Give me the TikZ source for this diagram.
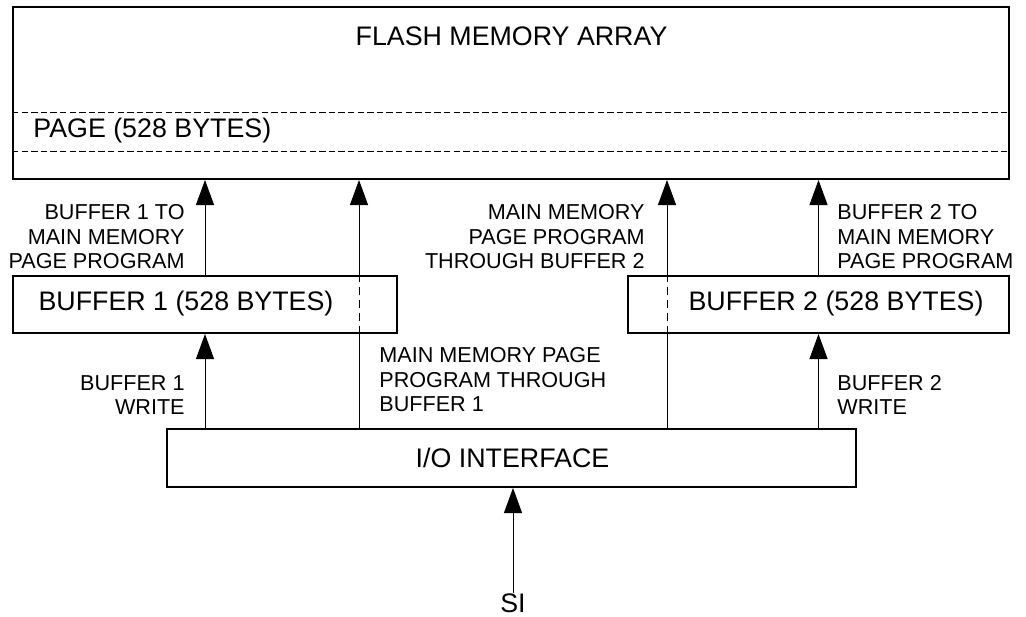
\documentclass[tikz,border=0pt]{standalone}
\usepackage{fontspec}
\setmainfont{Liberation Sans}
\usetikzlibrary{arrows.meta}
\tikzset{
  box/.style={draw, line width=1pt, rectangle, inner sep=0pt},
  lab/.style={inner sep=0pt, font=\fontsize{10.8}{12.25}\selectfont},
  big/.style={inner sep=0pt, font=\fontsize{13.4}{15}\selectfont},
  arr/.style={line width=0.5pt, -{Triangle[width=9pt,length=12.5pt]}},
  thin/.style={line width=0.5pt},
  page/.style={line width=0.5pt, dash pattern=on 3.2pt off 1.6pt},
  hidden/.style={line width=0.5pt, dash pattern=on 4pt off 2.5pt}
}
\begin{document}
\begin{tikzpicture}[x=0.5pt,y=-0.5pt]
            \useasboundingbox (0,0) rectangle (1026,616);
            % blocks
            \node[box, minimum width=498pt, minimum height=86pt] (flash) at (511,93) {};
            \node[big] (flashlabel) at (511.5,36) {FLASH MEMORY ARRAY};
            \draw[page] (flash.west |- 0,112) -- (flash.east |- 0,112);
            \draw[page] (flash.west |- 0,151) -- (flash.east |- 0,151);
            \node[big, anchor=west] (pagelabel) at (33,131) {PAGE (528 BYTES)};
            \node[box, minimum width=192pt, minimum height=28.5pt] (buf1) at (205,304.5) {};
            \node[big] (buf1label) at (186,304) {BUFFER 1 (528 BYTES)};
            \node[box, minimum width=190.5pt, minimum height=28.5pt] (buf2) at (818.5,304.5) {};
            \node[big] (buf2label) at (836,304) {BUFFER 2 (528 BYTES)};
            \node[box, minimum width=344.5pt, minimum height=29pt] (io) at (511.5,458) {};
            \node[big] (iolabel) at (512.5,458) {I/O INTERFACE};
            \node[big] (si) at (513,603) {SI};
            \coordinate (thru1) at (359,0);
            \coordinate (thru2) at (667,0);
            % connectors
            \draw[arr] (si) -- (io.south -| si);
            \draw[arr] (io.north -| buf1) -- (buf1);
            \draw[arr] (buf1) -- (flash.south -| buf1);
            \draw[arr] (io.north -| buf2) -- (buf2);
            \draw[arr] (buf2) -- (flash.south -| buf2);
            \draw[thin] (io.north -| thru1) -- (buf1.south -| thru1);
            \draw[hidden] (buf1.south -| thru1) -- (buf1.north -| thru1);
            \draw[arr] (buf1.north -| thru1) -- (flash.south -| thru1);
            \draw[thin] (io.north -| thru2) -- (buf2.south -| thru2);
            \draw[hidden] (buf2.south -| thru2) -- (buf2.north -| thru2);
            \draw[arr] (buf2.north -| thru2) -- (flash.south -| thru2);
            % labels
            \node[lab, align=right, anchor=east] (b1prog) at (185,237) {BUFFER 1 TO\\MAIN MEMORY\\PAGE PROGRAM};
            \node[lab, align=right, anchor=east] (b1write) at (185,395) {BUFFER 1\\WRITE};
            \node[lab, align=left, anchor=west] (thru1label) at (379,380) {MAIN MEMORY PAGE\\PROGRAM THROUGH\\BUFFER 1};
            \node[lab, align=right, anchor=east] (thru2label) at (645,237) {MAIN MEMORY\\PAGE PROGRAM\\THROUGH BUFFER 2};
            \node[lab, align=left, anchor=west] (b2prog) at (837,237) {BUFFER 2 TO\\MAIN MEMORY\\PAGE PROGRAM};
            \node[lab, align=left, anchor=west] (b2write) at (837,395) {BUFFER 2\\WRITE};
        \end{tikzpicture}
\end{document}
